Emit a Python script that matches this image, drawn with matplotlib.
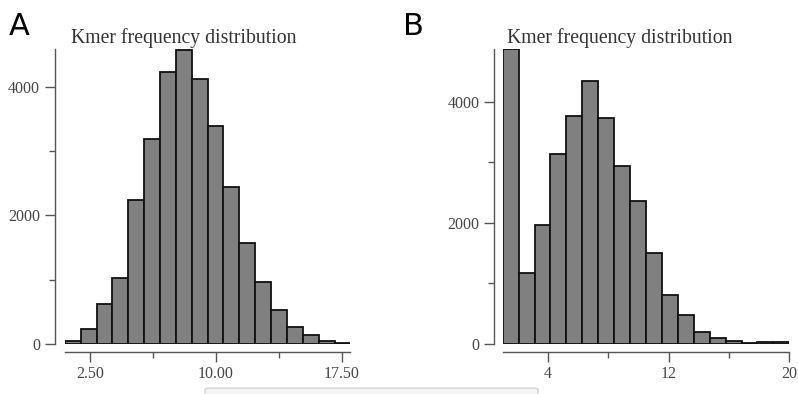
import numpy as np
import matplotlib.pyplot as plt
from matplotlib.patches import FancyBboxPatch

# panel A: 18 bins between 1 and 18
a_range = (1, 18)
a_counts = [50, 228, 626, 1029, 2245, 3186, 4225, 4577, 4127, 3393,
            2441, 1567, 957, 522, 264, 134, 41, 10]
a_ticks = [2.5, 10, 17.5]
a_ticklabels = ["2.50", "10.00", "17.50"]
a_minor = [6.25, 13.75]
a_ymax = 4590

# panel B: 18 bins between 1 and 20
b_range = (1, 20)
b_counts = [4871, 1179, 1961, 3141, 3763, 4336, 3725, 2931, 2358, 1499,
            804, 485, 193, 94, 55, 22, 28, 39]
b_ticks = [4, 12, 20]
b_ticklabels = ["4", "12", "20"]
b_minor = [8, 16]
b_ymax = 4871

y_ticks = [0, 2000, 4000]
y_minor = [1000, 3000]
title = "Kmer frequency distribution"

W, H = 798, 394
fig = plt.figure(figsize=(W / 100, H / 100), dpi=100)
serif = "Liberation Serif"


def px(x0, y0, x1, y1):
    return [x0 / W, 1 - y1 / H, (x1 - x0) / W, (y1 - y0) / H]


def panel(rect, xr, counts, ymax, ticks, labels, minor, yoff, xoff):
    ax = fig.add_axes(rect)
    edges = np.linspace(xr[0], xr[1], len(counts) + 1)
    ax.bar(edges[:-1], counts, width=np.diff(edges), align="edge",
           color="#808080", edgecolor="#111111", linewidth=1.3)
    ax.set_xlim(*xr)
    ax.set_ylim(0, ymax)
    for s in ("top", "right"):
        ax.spines[s].set_visible(False)
    ax.spines["left"].set_position(("outward", yoff))
    ax.spines["bottom"].set_position(("outward", xoff))
    for s in ("left", "bottom"):
        ax.spines[s].set_color("#555555")
        ax.spines[s].set_linewidth(1.0)
    ax.set_xticks(ticks)
    ax.set_xticklabels(labels)
    ax.set_xticks(minor, minor=True)
    ax.set_yticks(y_ticks)
    ax.set_yticks(y_minor, minor=True)
    ax.tick_params(which="major", length=7, width=1.0, color="#555555",
                   labelcolor="#444444", labelsize=11.5)
    ax.tick_params(which="minor", length=4, width=1.0, color="#555555")
    ax.tick_params(axis="x", pad=3)
    for lab in ax.get_xticklabels() + ax.get_yticklabels():
        lab.set_fontfamily(serif)
    return ax


panel(px(64.8, 49, 350.4, 344), a_range, a_counts, a_ymax,
      a_ticks, a_ticklabels, a_minor, 7.2, 5.8)
panel(px(502.7, 49, 789.3, 344), b_range, b_counts, b_ymax,
      b_ticks, b_ticklabels, b_minor, 6.3, 5.8)

fig.text(183.5 / W, 1 - 43 / H, title, ha="center", va="baseline",
         family=serif, fontsize=14.2, color="#333333")
fig.text(620 / W, 1 - 43 / H, title, ha="center", va="baseline",
         family=serif, fontsize=14.2, color="#333333")
fig.text(9 / W, 1 - 35 / H, "A", ha="left", va="baseline",
         fontsize=22, color="black")
fig.text(403 / W, 1 - 35 / H, "B", ha="left", va="baseline",
         fontsize=22, color="black")

# light grey bar at bottom edge (screenshot artefact)
fig.patches.append(FancyBboxPatch((205 / W, -0.02), 333 / W, 0.035,
                                  boxstyle="round,pad=0,rounding_size=0.005",
                                  transform=fig.transFigure,
                                  facecolor="#f4f4f4", edgecolor="#d4d4d4",
                                  linewidth=1.0))

fig.savefig("out.png", dpi=100)
